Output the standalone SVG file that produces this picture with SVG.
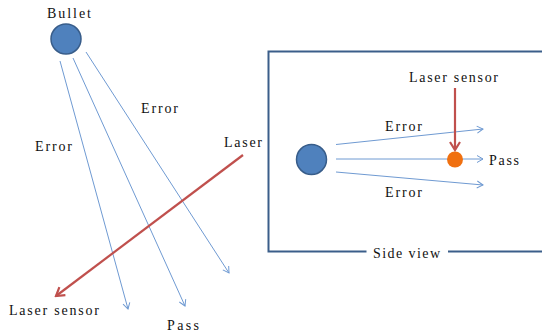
<svg xmlns="http://www.w3.org/2000/svg" width="542" height="334" viewBox="0 0 542 334">
<style>
.t{font-family:"Liberation Serif","DejaVu Serif",serif;font-size:14px;fill:#111}
.b{stroke:#6f9ad2;stroke-width:1;fill:none}
.r{stroke:#c0504d;stroke-width:2.2;fill:none}
.ball{fill:#4f81bd;stroke:#385d8a;stroke-width:1.5}
</style>
<defs>
<marker id="ab" markerUnits="userSpaceOnUse" markerWidth="12" markerHeight="12" viewBox="-10 -6 12 12" refX="0" refY="0" orient="auto">
<path d="M-6,-3.5 L0,0 L-6,3.5" fill="none" stroke="#6f9ad2" stroke-width="1"/>
</marker>
<marker id="ar" markerUnits="userSpaceOnUse" markerWidth="14" markerHeight="14" viewBox="-12 -7 14 14" refX="0" refY="0" orient="auto">
<path d="M-8,-5 L0,0 L-8,5" fill="none" stroke="#c0504d" stroke-width="2.2"/>
</marker>
</defs>
<rect width="542" height="334" fill="#fff"/>
<g id="frame">
<path d="M366.5,251.5 H268.5 V51.5 H543 M448,251.5 H543" fill="none" stroke="#3b5e8a" stroke-width="2"/>
<text class="t" x="373" y="258" textLength="67" lengthAdjust="spacing">Side view</text>
</g>
<g id="connectors">
<line class="b" x1="60" y1="61" x2="128" y2="309" marker-end="url(#ab)"/>
<line class="b" x1="73" y1="58" x2="185" y2="306" marker-end="url(#ab)"/>
<line class="b" x1="86" y1="52" x2="229" y2="273" marker-end="url(#ab)"/>
<line class="r" x1="243" y1="155" x2="56" y2="296" marker-end="url(#ar)"/>
<line class="b" x1="336" y1="144.5" x2="483" y2="129" marker-end="url(#ab)"/>
<line class="b" x1="336" y1="159" x2="483" y2="159" marker-end="url(#ab)"/>
<line class="b" x1="336" y1="172" x2="483" y2="185" marker-end="url(#ab)"/>
<line class="r" x1="455" y1="88" x2="455" y2="150" marker-end="url(#ar)"/>
</g>
<g id="bullet">
<circle class="ball" cx="66" cy="39" r="15"/>
<text class="t" x="47" y="18" textLength="44" lengthAdjust="spacing">Bullet</text>
</g>
<g id="labels-left">
<text class="t" x="35" y="151" textLength="37" lengthAdjust="spacing">Error</text>
<text class="t" x="141" y="113" textLength="37" lengthAdjust="spacing">Error</text>
<text class="t" x="224" y="147" textLength="38" lengthAdjust="spacing">Laser</text>
<text class="t" x="9" y="315" textLength="90" lengthAdjust="spacing">Laser sensor</text>
<text class="t" x="167" y="330" textLength="32" lengthAdjust="spacing">Pass</text>
</g>
<g id="side-bullet">
<circle class="ball" cx="311.5" cy="159.5" r="15"/>
</g>
<g id="sensor">
<circle cx="455" cy="159.5" r="8" fill="#f07010"/>
<text class="t" x="409" y="82" textLength="89" lengthAdjust="spacing">Laser sensor</text>
</g>
<g id="labels-right">
<text class="t" x="385" y="131" textLength="37" lengthAdjust="spacing">Error</text>
<text class="t" x="489" y="165" textLength="30" lengthAdjust="spacing">Pass</text>
<text class="t" x="385" y="197" textLength="37" lengthAdjust="spacing">Error</text>
</g>
</svg>
